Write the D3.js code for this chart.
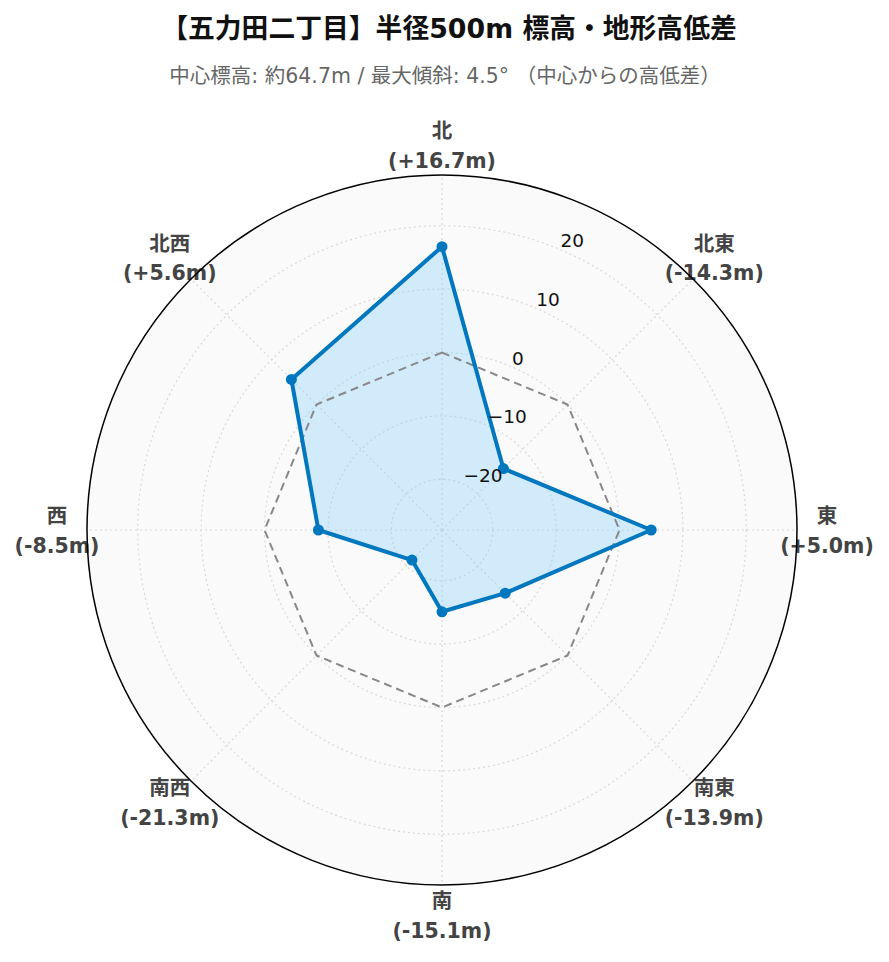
<!DOCTYPE html>
<html><head><meta charset="utf-8">
<script src="https://cdn.jsdelivr.net/npm/d3@7"></script>
<style>body{margin:0;background:#fff}svg{display:block}</style>
</head><body><svg id="c" width="889" height="962"></svg>
<script>
const directions = ["北","北東","東","南東","南","南西","西","北西"];
const values = [16.7, -14.3, 5.0, -13.9, -15.1, -21.3, -8.5, 5.6];
const baseline = [0,0,0,0,0,0,0,0];
const radialTicks = [-20,-10,0,10,20];
const radialDomain = [-28, 28];
const titleText = "【五力田二丁目】半径500m 標高・地形高低差";
const subtitleText = "中心標高: 約64.7m / 最大傾斜: 4.5° （中心からの高低差）";

const svg = d3.select("#c");
const cx = 442, cy = 530, R = 355;
const latin = "'DejaVu Sans', Verdana, 'Noto Sans CJK JP', sans-serif";

const r = d3.scaleLinear().domain(radialDomain).range([0, R]);
const step = 2*Math.PI/directions.length;
const A = i => i*step;

svg.append("text").attr("x", 449).attr("y", 38).attr("text-anchor","middle")
  .attr("font-family", latin).attr("font-weight","bold").attr("font-size", 26.8).attr("fill","#111")
  .text(titleText);
svg.append("text").attr("x", 445).attr("y", 83).attr("text-anchor","middle")
  .attr("font-family", latin).attr("font-size", 20.5).attr("fill","#666")
  .text(subtitleText);

const g = svg.append("g").attr("transform", `translate(${cx},${cy})`);
g.append("circle").attr("r", R).attr("fill", "#fafafa");

g.selectAll("circle.grid").data(radialTicks).join("circle").attr("class","grid")
  .attr("r", d => r(d)).attr("fill","none").attr("stroke","#d9d9d9")
  .attr("stroke-width",1.2).attr("stroke-dasharray","2,3");
g.selectAll("line.spoke").data(directions).join("line").attr("class","spoke")
  .attr("x1",0).attr("y1",0)
  .attr("x2",(d,i)=>R*Math.sin(A(i))).attr("y2",(d,i)=>-R*Math.cos(A(i)))
  .attr("stroke","#d9d9d9").attr("stroke-width",1.2).attr("stroke-dasharray","2,3");

const radial = d3.lineRadial().angle((d,i)=>A(i)).radius(d=>r(d)).curve(d3.curveLinearClosed);

g.append("path").attr("d", radial(values)).attr("fill","rgba(135,206,250,0.35)").attr("stroke","none");
g.append("path").attr("d", radial(baseline)).attr("fill","none").attr("stroke","#888")
  .attr("stroke-width",2).attr("stroke-dasharray","8,5");
g.append("path").attr("d", radial(values)).attr("fill","none").attr("stroke","#0077be")
  .attr("stroke-width",4).attr("stroke-linejoin","round");
g.selectAll("circle.pt").data(values).join("circle").attr("class","pt")
  .attr("cx",(d,i)=>r(d)*Math.sin(A(i))).attr("cy",(d,i)=>-r(d)*Math.cos(A(i)))
  .attr("r",5.5).attr("fill","#0077be");

const ta = Math.PI/8;
g.selectAll("text.rt").data(radialTicks).join("text").attr("class","rt")
  .attr("x", d => r(d)*Math.sin(ta) + 2)
  .attr("y", d => -r(d)*Math.cos(ta) - 8)
  .attr("dy","0.35em")
  .attr("font-family", latin).attr("font-size",18.5).attr("fill","#111")
  .text(d => d < 0 ? "\u2212" + Math.abs(d) : String(d));

const LR = 385;
const fmt = v => "(" + (v >= 0 ? "+" : "-") + Math.abs(v).toFixed(1) + "m)";
const lab = g.selectAll("g.lab").data(directions).join("g").attr("class","lab")
  .attr("transform",(d,i)=>`translate(${LR*Math.sin(A(i))},${-LR*Math.cos(A(i)) + 0.5})`);
lab.append("text").attr("y",-14.5).attr("dy","0.35em").attr("text-anchor","middle")
  .attr("font-family", latin).attr("font-weight","bold").attr("font-size",20.5).attr("fill","#444")
  .text(d=>d);
lab.append("text").attr("y",15).attr("dy","0.35em").attr("text-anchor","middle")
  .attr("font-family", latin).attr("font-weight","bold").attr("font-size",20.5).attr("fill","#444")
  .text((d,i)=>fmt(values[i]));

g.append("circle").attr("r", R).attr("fill","none").attr("stroke","#000").attr("stroke-width",1.5);
</script></body></html>
